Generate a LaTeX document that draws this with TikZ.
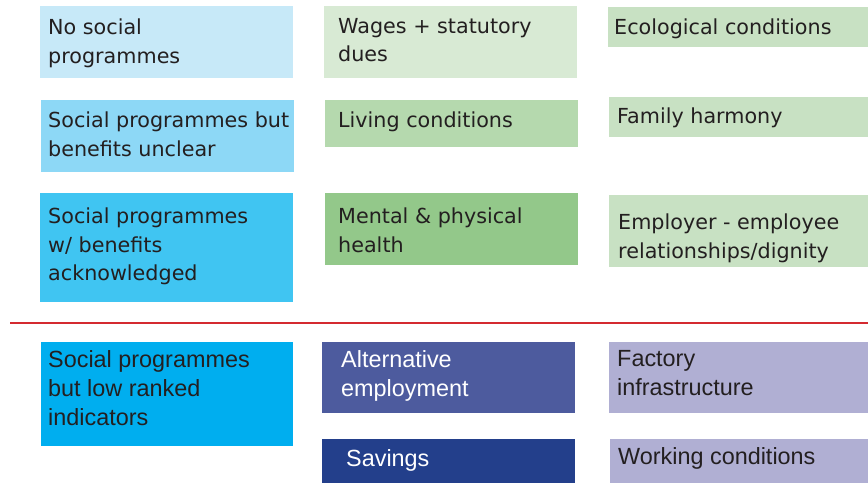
\documentclass[tikz,border=0pt]{standalone}
\usepackage{fontspec}
\newfontfamily\vfont{DejaVu Sans}
\newfontfamily\afont{Liberation Sans}
\newcommand\topfont{\vfont\fontsize{20.7}{28.5}\selectfont}
\newcommand\botfont{\afont\fontsize{23.4}{29}\selectfont}
\definecolor{txt}{HTML}{231F20}
\definecolor{cAa}{HTML}{C7E9F8}
\definecolor{cAb}{HTML}{8DD8F6}
\definecolor{cAc}{HTML}{40C5F2}
\definecolor{cAd}{HTML}{00AEEF}
\definecolor{cBa}{HTML}{D8EAD4}
\definecolor{cBb}{HTML}{B5D9AE}
\definecolor{cBc}{HTML}{93C88A}
\definecolor{cBd}{HTML}{4D5B9E}
\definecolor{cBe}{HTML}{233F8B}
\definecolor{cC}{HTML}{C8E1C3}
\definecolor{cCl}{HTML}{B0AFD3}
\definecolor{redl}{HTML}{D42A30}
\tikzset{
  panel/.style={rectangle, draw=none, anchor=north west, inner sep=0pt},
  lbl/.style={anchor=west, inner sep=0pt, align=left, text=txt, font=\topfont},
  lblb/.style={anchor=west, inner sep=0pt, align=left, text=txt, font=\botfont},
  redline/.style={draw=redl, line width=2.8pt}
}
\begin{document}
\begin{tikzpicture}[x=1pt,y=-1pt]
\useasboundingbox (0,0) rectangle (868,483);
% column A
\node[panel, fill=cAa, minimum width=253pt, minimum height=72pt] (a1) at (40,6) {};
\node[panel, fill=cAb, minimum width=253pt, minimum height=72pt] (a2) at (41,100) {};
\node[panel, fill=cAc, minimum width=253pt, minimum height=109pt] (a3) at (40,193) {};
\node[panel, fill=cAd, minimum width=252pt, minimum height=104pt] (a4) at (41,342) {};
% column B
\node[panel, fill=cBa, minimum width=253pt, minimum height=72pt] (b1) at (324,6) {};
\node[panel, fill=cBb, minimum width=253pt, minimum height=47pt] (b2) at (325,100) {};
\node[panel, fill=cBc, minimum width=253pt, minimum height=72pt] (b3) at (325,193) {};
\node[panel, fill=cBd, minimum width=253pt, minimum height=71pt] (b4) at (322,342) {};
\node[panel, fill=cBe, minimum width=253pt, minimum height=44pt] (b5) at (322,439) {};
% column C
\node[panel, fill=cC, minimum width=260pt, minimum height=40pt] (c1) at (608,7) {};
\node[panel, fill=cC, minimum width=259pt, minimum height=40pt] (c2) at (609,97) {};
\node[panel, fill=cC, minimum width=259pt, minimum height=72pt] (c3) at (609,195) {};
\node[panel, fill=cCl, minimum width=259pt, minimum height=71pt] (c4) at (609,342) {};
\node[panel, fill=cCl, minimum width=258pt, minimum height=44pt] (c5) at (610,439) {};
% labels
\node[lbl] (a1t) at ([xshift=8pt,yshift=-1pt]a1.west) {No social\\programmes};
\node[lbl] (a2t) at ([xshift=7pt,yshift=2pt]a2.west) {Social programmes but\\benefits unclear};
\node[lbl] (a3t) at ([xshift=8pt,yshift=1pt]a3.west) {Social programmes\\w/ benefits\\acknowledged};
\node[lblb] (a4t) at ([xshift=7pt,yshift=6pt]a4.west) {Social programmes\\but low ranked\\indicators};
\node[lbl] (b1t) at ([xshift=14pt,yshift=2pt]b1.west) {Wages + statutory\\dues};
\node[lbl] (b2t) at ([xshift=13pt,yshift=2pt]b2.west) {Living conditions};
\node[lbl] (b3t) at ([xshift=13pt,yshift=-1pt]b3.west) {Mental \& physical\\health};
\node[lblb, text=white] (b4t) at ([xshift=19pt,yshift=2pt]b4.west) {Alternative\\employment};
\node[lblb, text=white] (b5t) at ([xshift=24pt,yshift=1pt]b5.west) {Savings};
\node[lbl] (c1t) at ([xshift=6pt,yshift=-2pt]c1.west) {Ecological conditions};
\node[lbl] (c2t) at ([xshift=8pt,yshift=-1pt]c2.west) {Family harmony};
\node[lbl] (c3t) at ([xshift=9pt,yshift=-7pt]c3.west) {Employer - employee\\relationships/dignity};
\node[lblb] (c4t) at ([xshift=8pt,yshift=5pt]c4.west) {Factory\\infrastructure};
\node[lblb] (c5t) at ([xshift=8pt,yshift=3pt]c5.west) {Working conditions};
% red divider
\coordinate (rl) at (10,323);
\coordinate (rr) at (868,323);
\draw[redline] (rl) -- (rr);
\end{tikzpicture}
\end{document}
